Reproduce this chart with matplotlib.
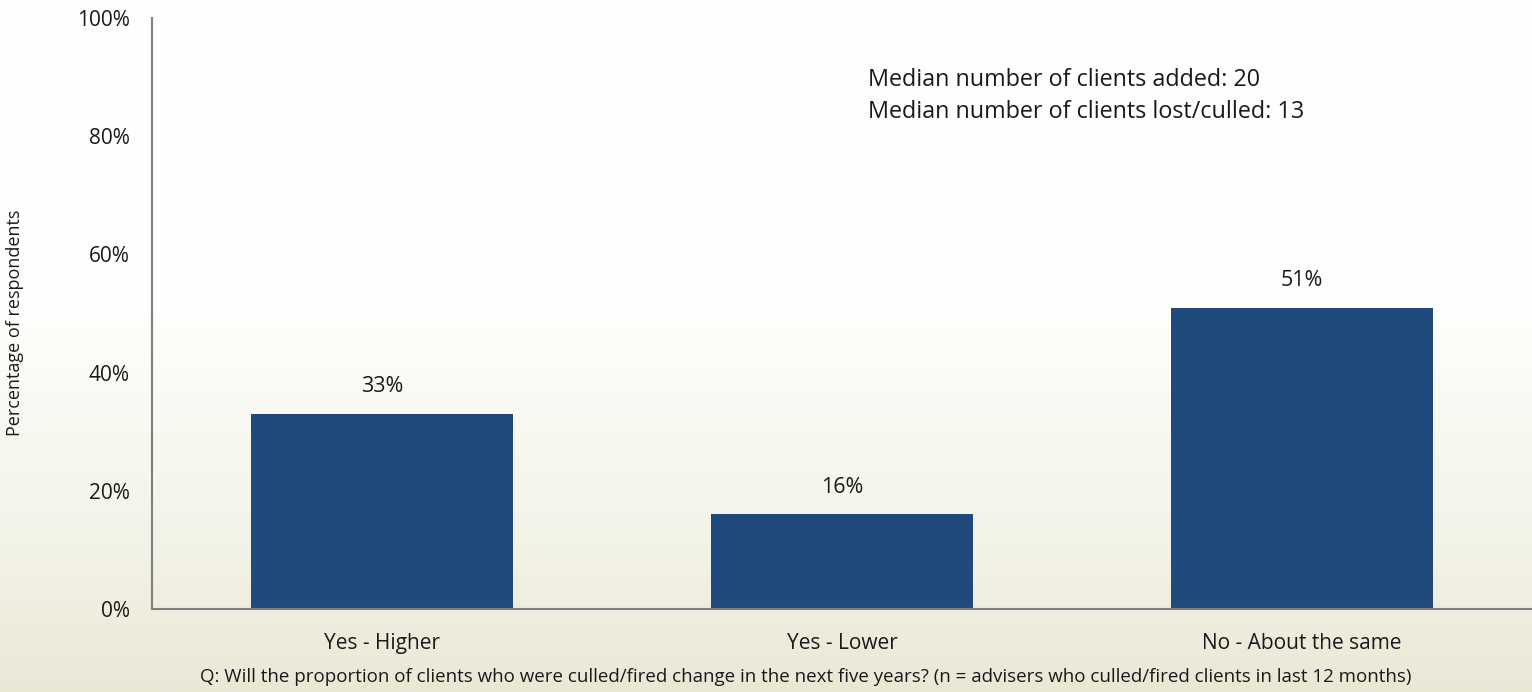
import numpy as np
import matplotlib.pyplot as plt
from matplotlib.colors import LinearSegmentedColormap
from matplotlib.ticker import PercentFormatter

plt.rcParams["font.family"] = ["Open Sans", "DejaVu Sans"]

categories = ["Yes - Higher", "Yes - Lower", "No - About the same"]
shares = [33, 16, 51]
median_added = 20
median_lost = 13

BAR_COLOR = "#204A7C"
AXIS_COLOR = "#7F7F7F"
TEXT_COLOR = "#1A1A1A"

fig = plt.figure(figsize=(15.32, 6.92), dpi=100)

# soft white-to-beige backdrop behind the whole figure
bg = fig.add_axes([0, 0, 1, 1], zorder=-1)
grad = LinearSegmentedColormap.from_list(
    "bg", [(0.0, "#FFFFFF"), (0.45, "#FEFEFC"), (0.75, "#F4F4EA"), (1.0, "#EAE8D5")]
)
bg.imshow(np.linspace(0, 1, 256).reshape(-1, 1), aspect="auto", cmap=grad,
          extent=[0, 1, 0, 1], origin="upper")
bg.axis("off")

ax = fig.add_axes([152 / 1532, 1 - 609 / 692, 1 - 152 / 1532, (609 - 18) / 692])
ax.patch.set_alpha(0)

x = np.arange(len(categories))
bars = ax.bar(x, shares, width=0.57, color=BAR_COLOR)
for rect, v in zip(bars, shares):
    ax.text(rect.get_x() + rect.get_width() / 2, v + 2.8, f"{v}%",
            ha="center", va="bottom", fontsize=15.5, color=TEXT_COLOR)

ax.set_xlim(-0.5, 2.5)
ax.set_ylim(0, 100)
ax.set_yticks(range(0, 101, 20))
ax.yaxis.set_major_formatter(PercentFormatter(decimals=0))
ax.set_xticks(x)
ax.set_xticklabels(categories)
ax.tick_params(axis="both", length=0, labelsize=15, colors=TEXT_COLOR)
ax.tick_params(axis="y", pad=16)
ax.tick_params(axis="x", pad=17)

for side in ("top", "right"):
    ax.spines[side].set_visible(False)
for side in ("left", "bottom"):
    ax.spines[side].set_color(AXIS_COLOR)
    ax.spines[side].set_linewidth(1.5)

fig.text(15 / 1532, 1 - 323 / 692, "Percentage of respondents", rotation=90,
         ha="center", va="center", fontsize=13, color=TEXT_COLOR)

fig.text(868 / 1532, 1 - 80 / 692, f"Median number of clients added: {median_added}",
         ha="left", va="center", fontsize=16.8, color=TEXT_COLOR)
fig.text(868 / 1532, 1 - 112 / 692, f"Median number of clients lost/culled: {median_lost}",
         ha="left", va="center", fontsize=16.8, color=TEXT_COLOR)

fig.text(806 / 1532, 1 - 677 / 692,
         "Q: Will the proportion of clients who were culled/fired change in the next five years? "
         "(n = advisers who culled/fired clients in last 12 months)",
         ha="center", va="center", fontsize=13.5, color=TEXT_COLOR)

fig.savefig("out.png", dpi=100)
